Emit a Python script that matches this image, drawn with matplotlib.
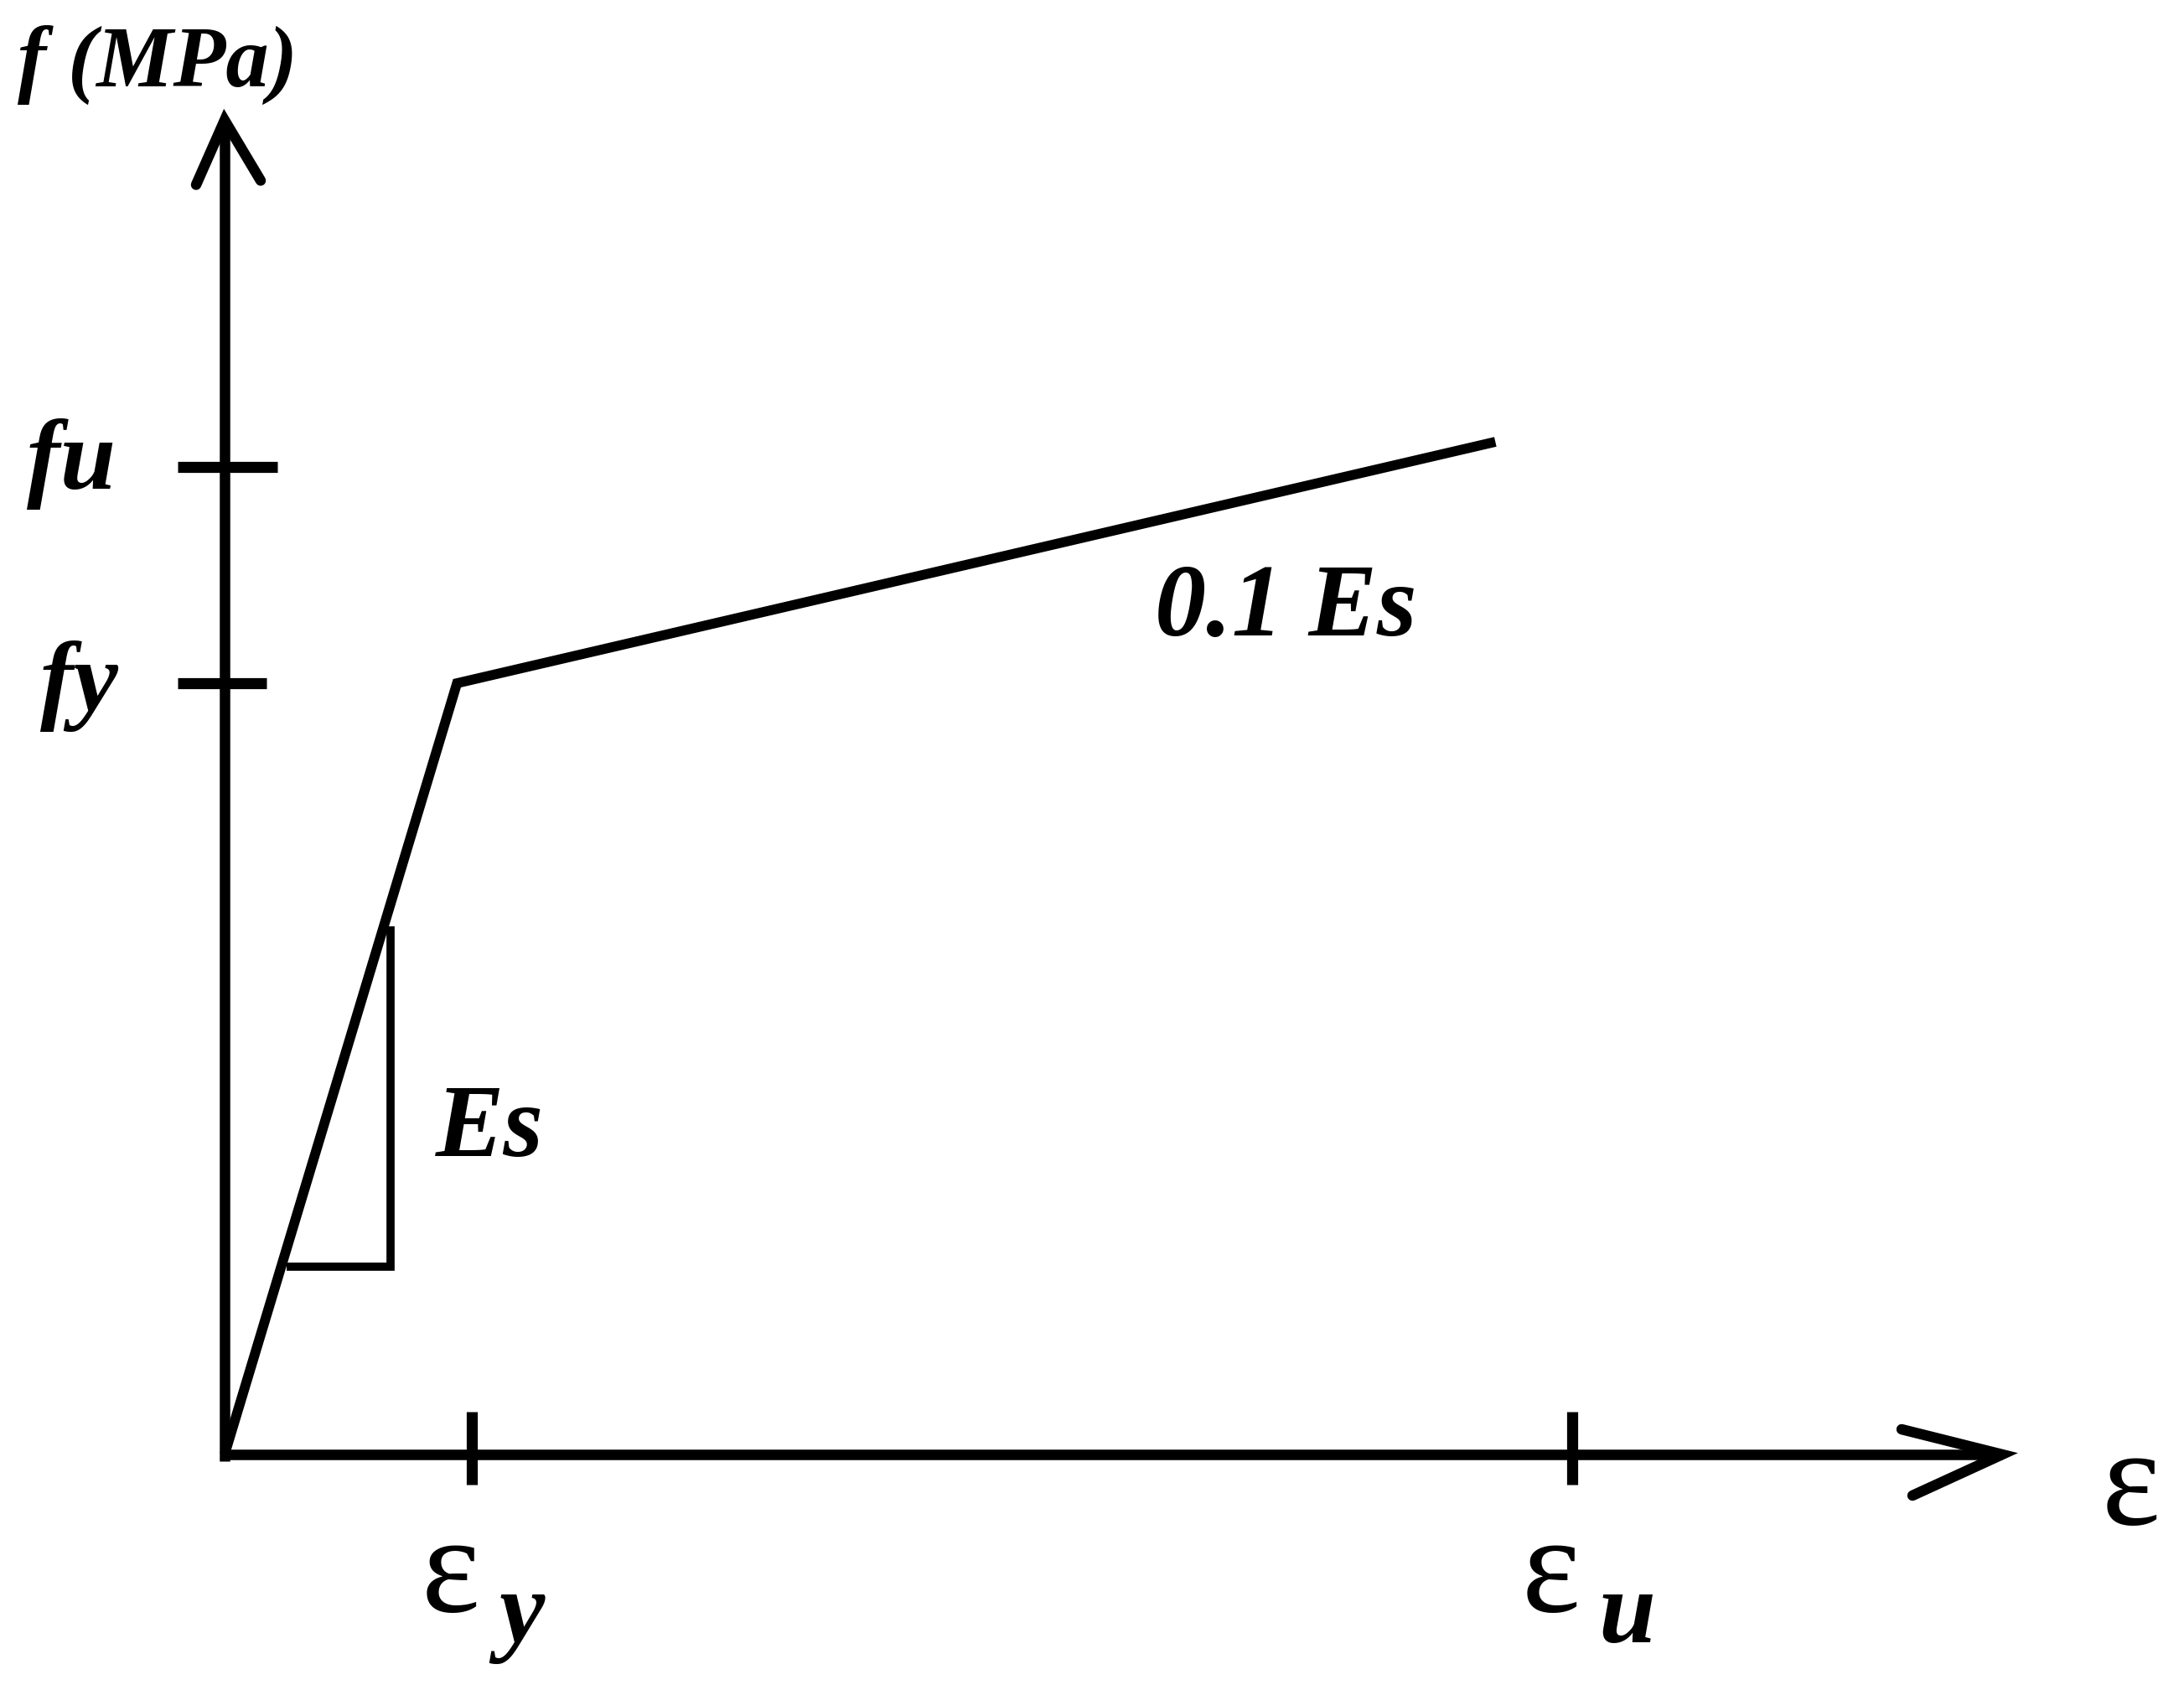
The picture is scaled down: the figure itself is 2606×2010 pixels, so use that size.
import matplotlib
matplotlib.use("Agg")
import matplotlib.pyplot as plt
from matplotlib import font_manager as fm

# ---- data (schematic stress-strain of steel, arbitrary units) ----
strain_pts = [0.0, 0.94, 5.14]
stress_pts = [0.0, 1.0, 1.313]
eps_ticks = [1.0, 5.45]
eps_tick_sub = ["y", "u"]
f_ticks = [1.0, 1.28]
f_tick_labels = ["fy", "fu"]
tri_x = [0.25, 0.67, 0.67]
tri_y = [0.243, 0.243, 0.685]
x_axis_end = 7.19
y_axis_end = 1.730

# ---- fonts ----
def find_font(name_part, bold, italic):
    for f in fm.fontManager.ttflist:
        if f.name.lower() == name_part.lower():
            w = f.weight
            isb = (w == "bold") or (isinstance(w, int) and w >= 600)
            isi = f.style in ("italic", "oblique")
            if isb == bold and isi == italic:
                return f.fname
    return None

bi_file = find_font("Liberation Serif", True, True)
r_file = find_font("Liberation Serif", False, False)
lab_fp = dict(fname=bi_file) if bi_file else dict(family="serif", weight="bold", style="italic")
eps_fp = dict(fname=r_file) if r_file else dict(family="serif")

def FP(size, spec):
    return fm.FontProperties(size=size, **spec)

# ---- layout ----
W, H = 2606, 2010
OX, OY = 268, 1735          # pixel position of origin
SX, SY = 295.0, 920.0       # pixels per data unit

fig = plt.figure(figsize=(W / 100, H / 100), dpi=100)
ax = fig.add_axes([0, 0, 1, 1])
ax.axis("off")
ax.set_xlim(-OX / SX, (W - OX) / SX)
ax.set_ylim(-(H - OY) / SY, OY / SY)

def dx(p):
    return p / SX

def dy(p):
    return p / SY

k = "black"
LW = 9
# axes
ax.plot([0, 0], [-dy(8), y_axis_end], color=k, lw=LW, solid_capstyle="butt")
ax.plot([-dx(5), x_axis_end], [0, 0], color=k, lw=LW, solid_capstyle="butt")
# arrow heads (open)
ax.plot([-dx(34), 0, dx(43)], [y_axis_end - dy(77), y_axis_end, y_axis_end - dy(72)],
        color=k, lw=LW, solid_joinstyle="miter", solid_capstyle="round")
ax.plot([x_axis_end - dx(120), x_axis_end, x_axis_end - dx(107)],
        [dy(30), 0, -dy(49)], color=k, lw=LW, solid_joinstyle="miter",
        solid_capstyle="round")

# curve
ax.plot(strain_pts, stress_pts, color=k, lw=8.5, solid_joinstyle="miter",
        solid_capstyle="butt")
# slope triangle
ax.plot(tri_x, tri_y, color=k, lw=7, solid_joinstyle="miter", solid_capstyle="butt")

# ticks
for e in eps_ticks:
    ax.plot([e, e], [-dy(36), dy(51)], color=k, lw=9.5, solid_capstyle="butt")
for f, r in zip(f_ticks, [50, 63]):
    ax.plot([-dx(56), dx(r)], [f, f], color=k, lw=9.5, solid_capstyle="butt")

# y-axis labels
ax.text(-dx(247), 1.774, "f (MPa)", fontproperties=FP(74, lab_fp), color=k,
        ha="left", va="baseline")
ax.text(-dx(236), f_ticks[1] - dy(26), f_tick_labels[1], fontproperties=FP(86, lab_fp),
        color=k, ha="left", va="baseline")
ax.text(-dx(220), f_ticks[0] - dy(33), f_tick_labels[0], fontproperties=FP(86, lab_fp),
        color=k, ha="left", va="baseline")

# slope labels
ax.text(3.763, 1.062, "0.1 Es", fontproperties=FP(88, lab_fp), color=k,
        ha="left", va="baseline")
ax.text(0.854, 0.387, "Es", fontproperties=FP(88, lab_fp), color=k,
        ha="left", va="baseline")

# strain labels
for e, sub in zip(eps_ticks, eps_tick_sub):
    ax.text(e - dx(60), -dy(187), "ε", fontproperties=FP(120, eps_fp), color=k,
            ha="left", va="baseline", path_effects=None)
    ax.text(e + dx(32), -dy(224), sub, fontproperties=FP(88, lab_fp), color=k,
            ha="left", va="baseline")
ax.text(x_axis_end + dx(119), -dy(83), "ε", fontproperties=FP(120, eps_fp), color=k,
        ha="left", va="baseline")

fig.savefig("out.png", dpi=100, facecolor="white")
